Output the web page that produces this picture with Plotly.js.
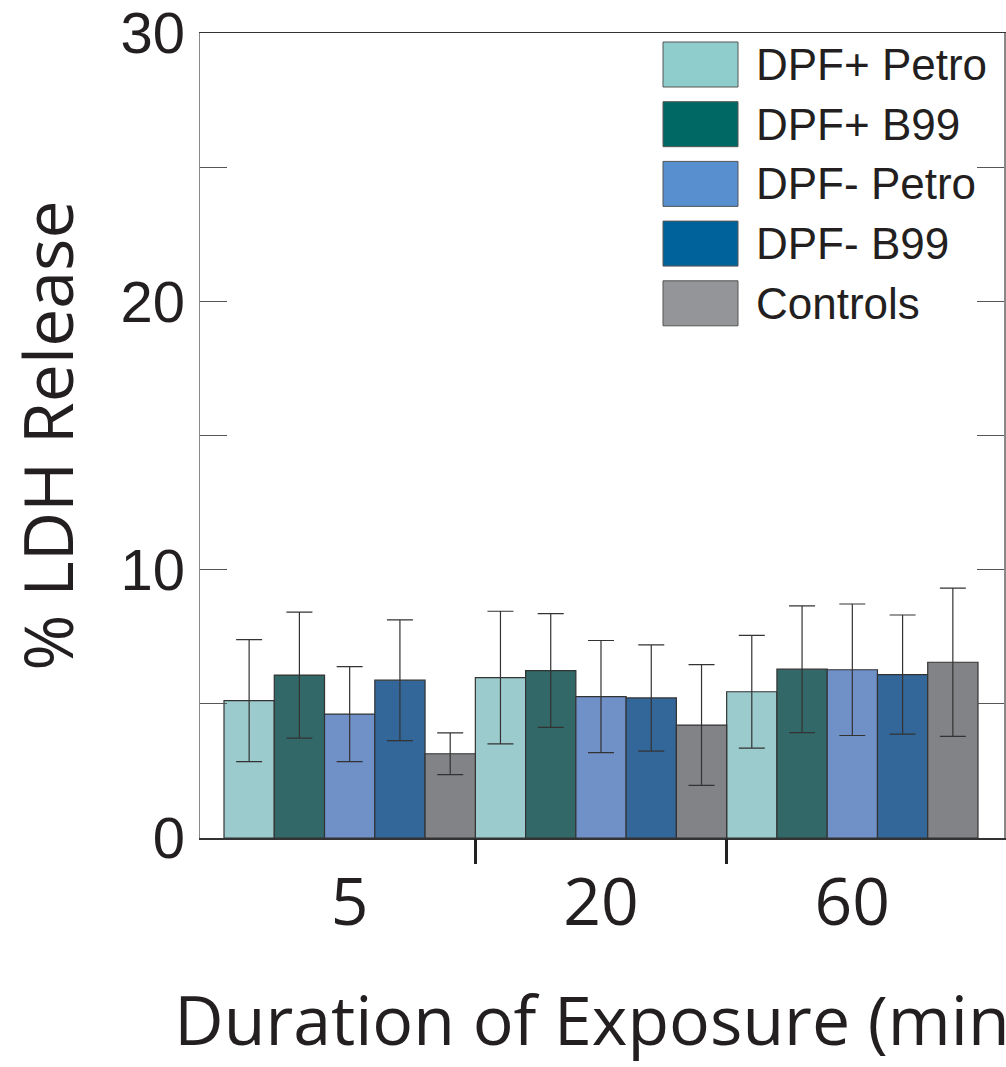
<!DOCTYPE html>
<html>
<head>
<meta charset="utf-8">
<script src="https://cdn.plot.ly/plotly-3.0.1.min.js"></script>
<style>
  html, body { margin: 0; padding: 0; background: #ffffff; }
  #chart { width: 1006px; height: 1067px; }
</style>
</head>
<body>
<div id="chart"></div>
<script>
// ---- data ----
const durations = ["5", "20", "60"];           // minutes of exposure
const seriesNames = ["DPF+ Petro", "DPF+ B99", "DPF- Petro", "DPF- B99", "Controls"];

const dpfPlusPetro  = [5.12, 5.98, 5.45];
const dpfPlusB99    = [6.07, 6.24, 6.29];
const dpfMinusPetro = [4.62, 5.27, 6.27];
const dpfMinusB99   = [5.88, 5.22, 6.09];
const controls      = [3.14, 4.21, 6.55];

const errPlusPetro  = [2.27, 2.47, 2.10];
const errPlusB99    = [2.35, 2.12, 2.36];
const errMinusPetro = [1.77, 2.09, 2.45];
const errMinusB99   = [2.25, 1.98, 2.22];
const errControls   = [0.78, 2.25, 2.76];

const yTickVals = [0, 10, 20, 30];

// ---- styling ----
const barColors    = ["#9bcbcc", "#326868", "#7090c8", "#336699", "#828387"];
const legendColors = ["#8fcdcc", "#006864", "#578fcf", "#00629b", "#939598"];

const seriesValues = [dpfPlusPetro, dpfPlusB99, dpfMinusPetro, dpfMinusB99, controls];
const seriesErrors = [errPlusPetro, errPlusB99, errMinusPetro, errMinusB99, errControls];

const groupPos = durations.map((d, i) => i);

const traces = seriesNames.map((name, s) => ({
  type: "bar",
  name: name,
  x: groupPos,
  y: seriesValues[s],
  marker: { color: barColors[s], line: { color: "#333333", width: 1.2 } },
  error_y: { type: "data", array: seriesErrors[s], visible: true,
             color: "#333333", thickness: 1.2, width: 13 },
  showlegend: false,
  hoverinfo: "y"
}));

// invisible helper trace on overlay axis for group-boundary ticks
traces.push({
  type: "scatter", x: [0.5, 1.5], y: [0, 0], xaxis: "x2", yaxis: "y",
  mode: "markers", marker: { opacity: 0 }, showlegend: false, hoverinfo: "skip"
});

// ---- plot-area geometry (pixels) ----
const W = 1006, H = 1067;
const L = 200, R = 1004, T = 33, B = 838;
const pw = R - L, ph = B - T;
const xr = [-0.5955, 2.6035];

// custom legend with large swatches
const shapes = [];
const annotations = [];
seriesNames.forEach((name, i) => {
  const top = 42 + 59.7 * i, bot = top + 45;
  shapes.push({
    type: "rect", xref: "paper", yref: "paper",
    x0: (663 - L) / pw, x1: (738 - L) / pw,
    y0: (B - bot) / ph, y1: (B - top) / ph,
    fillcolor: legendColors[i], line: { color: "#555555", width: 1 }
  });
  annotations.push({
    xref: "paper", yref: "paper",
    x: (754 - L) / pw, y: (B - (top + 22.5)) / ph,
    xanchor: "left", yanchor: "middle", showarrow: false,
    text: name,
    font: { family: "Liberation Sans, Arial, sans-serif", size: 44, color: "#231f20" }
  });
});

const layout = {
  width: W, height: H,
  margin: { l: L, r: W - R, t: T, b: H - B, pad: 0 },
  paper_bgcolor: "#ffffff", plot_bgcolor: "#ffffff",
  barmode: "group", bargap: 0, bargroupgap: 0,
  showlegend: false,
  xaxis: {
    range: xr, tickvals: groupPos, ticktext: durations,
    ticks: "", showgrid: false, zeroline: false,
    showline: true, linecolor: "#333333", linewidth: 1.5, mirror: true,
    tickfont: { family: "Open Sans, Noto Sans, sans-serif", size: 66, color: "#231f20" },
    ticklabelstandoff: 6,
    title: { text: "Duration of Exposure (min)", standoff: 54,
             font: { family: "Open Sans, Noto Sans, sans-serif", size: 68, color: "#231f20" } }
  },
  xaxis2: {
    overlaying: "x", anchor: "y", side: "bottom", range: xr,
    tickvals: [0.5, 1.5], showticklabels: false,
    ticks: "outside", ticklen: 25, tickwidth: 3, tickcolor: "#222222",
    showgrid: false, zeroline: false, showline: false
  },
  yaxis: {
    range: [0, 30], tickvals: yTickVals, ticktext: yTickVals.map(String),
    ticks: "inside", ticklen: 27, tickwidth: 1.2, tickcolor: "#555555",
    minor: { dtick: 5, ticks: "inside", ticklen: 13, tickwidth: 1.2, tickcolor: "#555555", showgrid: false },
    showgrid: false, zeroline: false,
    showline: true, linecolor: "#888888", linewidth: 1.5, mirror: "allticks",
    tickfont: { family: "Liberation Sans, Arial, sans-serif", size: 58, color: "#231f20" },
    ticklabelstandoff: 2,
    title: { text: "% LDH Release", standoff: 34,
             font: { family: "Open Sans, Noto Sans, sans-serif", size: 68, color: "#231f20" } }
  },
  shapes: shapes,
  annotations: annotations
};

Plotly.newPlot("chart", traces, layout, { displayModeBar: false, staticPlot: true });
</script>
</body>
</html>
